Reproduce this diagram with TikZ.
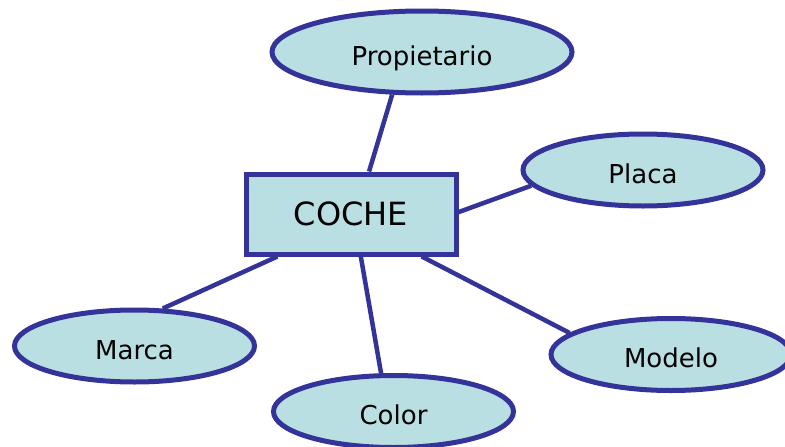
\documentclass[tikz,border=0pt]{standalone}
\usepackage{fontspec}
\setmainfont{DejaVu Sans}
\usetikzlibrary{shapes.geometric}
\definecolor{attrfill}{HTML}{B9DFE3}
\definecolor{attrline}{HTML}{333399}
\tikzset{
    attr/.style={ellipse,draw=attrline,fill=attrfill,line width=5pt,inner sep=0pt,
        minimum width=240pt,minimum height=72pt,text height=26pt,text depth=0pt,
        font=\fontsize{26}{30}\selectfont},
    entity/.style={rectangle,draw=attrline,fill=attrfill,line width=5pt,inner sep=0pt,
        minimum width=210pt,minimum height=80pt,text height=23pt,text depth=0pt,
        font=\fontsize{32}{36}\selectfont},
    link/.style={draw=attrline,line width=4.5pt}
}
\begin{document}
\begin{tikzpicture}[x=1pt,y=-1pt]
\useasboundingbox (0,0) rectangle (785,447);
\clip (0,0) rectangle (785,447);
\node[entity] (coche) at (351,214) {COCHE};
\node[attr,minimum width=300pt,minimum height=82pt] (prop) at (422,52) {Propietario};
\node[attr] (placa) at (643,170) {Placa};
\node[attr] (marca) at (134.5,346) {Marca};
\node[attr] (color) at (393.5,411.5) {Color};
\node[attr] (modelo) at (671,354.5) {Modelo};
% connectors
\draw[link] (prop.235) -- (coche.67);
\draw[link] (placa.188) -- (coche.1);
\draw[link] (marca.53) -- (coche.210);
\draw[link] (color.108) -- (coche.283);
\draw[link] (modelo.168) -- (coche.329);
\end{tikzpicture}
\end{document}
